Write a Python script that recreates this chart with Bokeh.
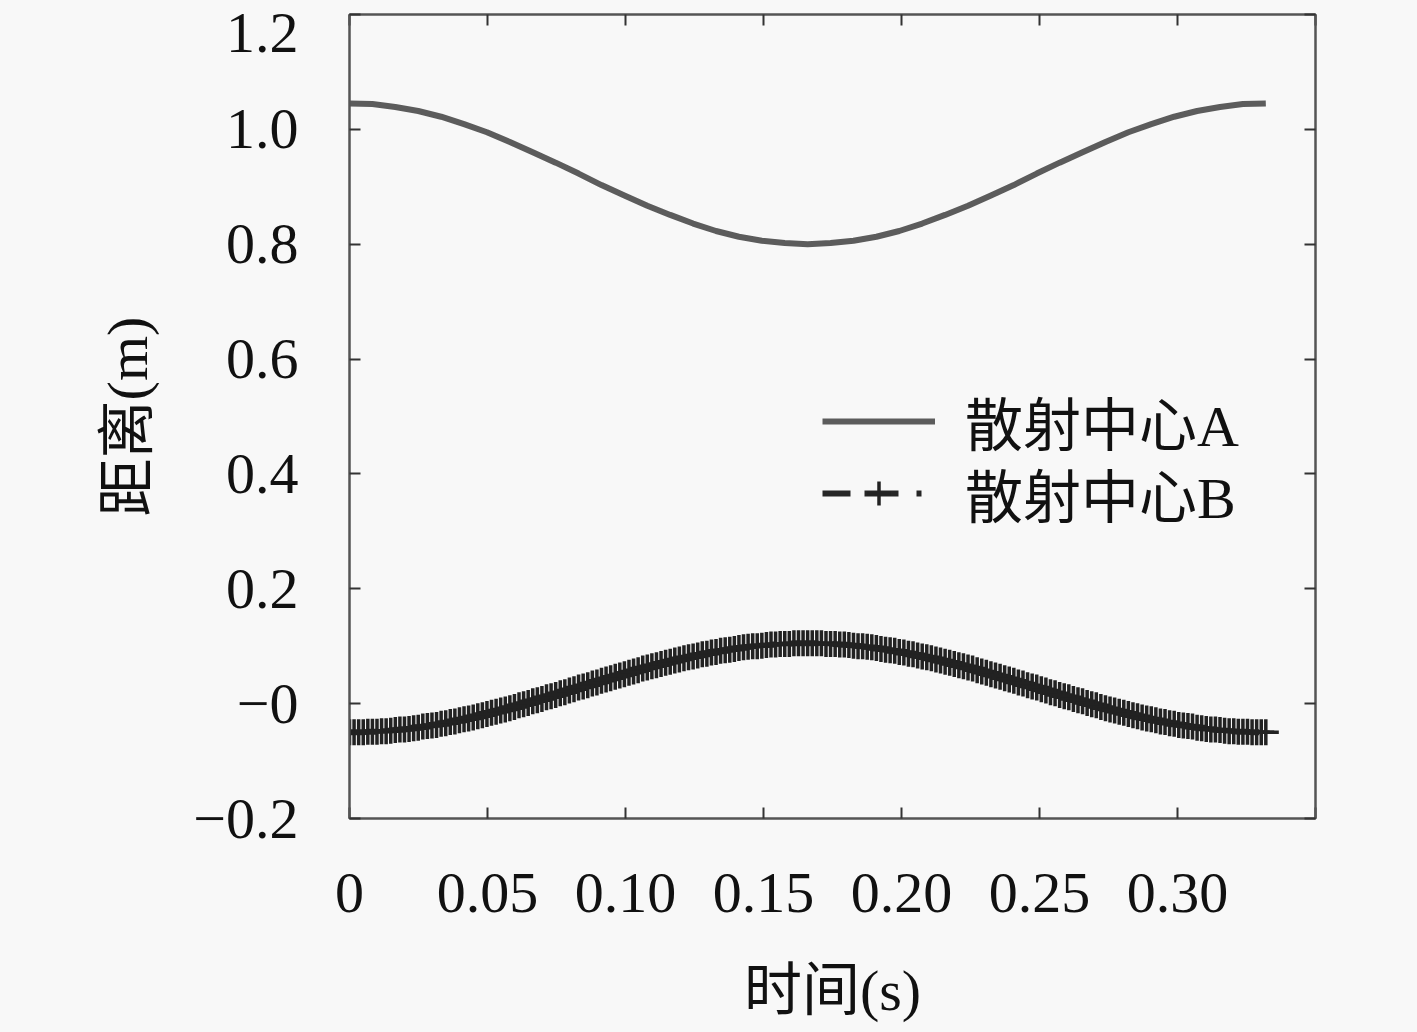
import numpy as np
from bokeh.plotting import figure
from bokeh.models import LinearAxis, FixedTicker, Legend, LegendItem, Range1d
from bokeh.embed import file_html
from bokeh.resources import INLINE

# ---------------- data ----------------
t_end = 0.332  # s, last sample time

# scattering centre A distance (m), 41 samples over 0..t_end
dist_A = [1.045, 1.044, 1.039, 1.032, 1.022, 1.009, 0.995, 0.978, 0.960, 0.942,
          0.923, 0.903, 0.885, 0.867, 0.851, 0.836, 0.823, 0.813, 0.806, 0.802,
          0.800,
          0.802, 0.806, 0.813, 0.823, 0.836, 0.851, 0.867, 0.885, 0.903, 0.923,
          0.942, 0.960, 0.978, 0.995, 1.009, 1.022, 1.032, 1.039, 1.044, 1.045]

# scattering centre B distance (m), 201 samples over 0..t_end
dist_B = [-0.050, -0.050, -0.050, -0.050, -0.049, -0.049, -0.049, -0.048, -0.048, -0.047,
          -0.046, -0.045, -0.045, -0.044, -0.043, -0.042, -0.040, -0.039, -0.038, -0.037,
          -0.035, -0.034, -0.032, -0.031, -0.029, -0.027, -0.026, -0.024, -0.022, -0.020,
          -0.018, -0.016, -0.014, -0.012, -0.010, -0.008, -0.006, -0.003, -0.001, 0.001,
          0.004, 0.006, 0.008, 0.011, 0.013, 0.015, 0.018, 0.020, 0.023, 0.025,
          0.028,
          0.030, 0.032, 0.035, 0.037, 0.040, 0.042, 0.044, 0.047, 0.049, 0.051,
          0.054, 0.056, 0.058, 0.061, 0.063, 0.065, 0.067, 0.069, 0.071, 0.073,
          0.075, 0.077, 0.079, 0.081, 0.082, 0.084, 0.086, 0.087, 0.089, 0.090,
          0.092, 0.093, 0.094, 0.095, 0.097, 0.098, 0.099, 0.100, 0.100, 0.101,
          0.102, 0.103, 0.103, 0.104, 0.104, 0.104, 0.105, 0.105, 0.105, 0.105,
          0.105, 0.105, 0.105, 0.104, 0.104, 0.104, 0.103, 0.103, 0.102, 0.101,
          0.100, 0.100, 0.099, 0.098, 0.097, 0.095, 0.094, 0.093, 0.092, 0.090,
          0.089, 0.087, 0.086, 0.084, 0.082, 0.081, 0.079, 0.077, 0.075, 0.073,
          0.071, 0.069, 0.067, 0.065, 0.063, 0.061, 0.058, 0.056, 0.054, 0.051,
          0.049, 0.047, 0.044, 0.042, 0.040, 0.037, 0.035, 0.032, 0.030, 0.028,
          0.025, 0.023, 0.020, 0.018, 0.015, 0.013, 0.011, 0.008, 0.006, 0.004,
          0.001, -0.001, -0.003, -0.006, -0.008, -0.010, -0.012, -0.014, -0.016, -0.018,
          -0.020, -0.022, -0.024, -0.026, -0.027, -0.029, -0.031, -0.032, -0.034, -0.035,
          -0.037, -0.038, -0.039, -0.040, -0.042, -0.043, -0.044, -0.045, -0.045, -0.046,
          -0.047, -0.048, -0.048, -0.049, -0.049, -0.049, -0.050, -0.050, -0.050, -0.050]

time_A = np.linspace(0, t_end, len(dist_A))
time_B = np.linspace(0, t_end, len(dist_B))

series_labels = ["散射中心A", "散射中心B"]

x_ticks = [0.0, 0.05, 0.10, 0.15, 0.20, 0.25, 0.30, 0.35]
x_tick_labels = ["0", "0.05", "0.10", "0.15", "0.20", "0.25", "0.30", ""]
y_ticks = [-0.2, 0.0, 0.2, 0.4, 0.6, 0.8, 1.0, 1.2]
y_tick_labels = ["\u22120.2", "\u22120", "0.2", "0.4", "0.6", "0.8", "1.0", "1.2"]

x_title = "时间(s)"
y_title = "距离(m)"

# ---------------- styles ----------------
BG = "#f8f8f8"
FRAME = "#555555"
SERIF = "Liberation Serif"
MIXED = "Liberation Serif, Noto Sans CJK SC"

W, H = 1400, 1030
FL, FR, FT, FB = 349, 1315, 14, 818   # frame edges in canvas pixels
Y0, Y1 = -0.2, 1.2
TOP_LABEL_DROP_PX = 18                # keep the top tick label inside the canvas

p = figure(width=W, height=H, output_backend="svg", toolbar_location=None,
           x_range=Range1d(0, 0.35), y_range=Range1d(Y0, Y1),
           min_border_left=FL, min_border_right=W - FR, min_border_top=FT,
           min_border_bottom=H - FB, background_fill_color=BG, border_fill_color=BG)
p.grid.visible = False
p.outline_line_color = FRAME
p.outline_line_width = 2

def style_axis(ax, ticks, labels, show_labels=True, show_ticks=True):
    ax.ticker = FixedTicker(ticks=ticks)
    ax.major_label_overrides = {t: l for t, l in zip(ticks, labels)}
    ax.major_tick_in = 11 if show_ticks else 0
    ax.major_tick_out = 0
    ax.major_tick_line_color = "#333333" if show_ticks else None
    ax.major_tick_line_width = 2
    ax.minor_tick_line_color = None
    ax.axis_line_color = FRAME if show_ticks else None
    ax.axis_line_width = 2
    ax.major_label_text_font = SERIF
    ax.major_label_text_color = "#111111"
    if show_labels:
        ax.major_label_text_font_size = "58px"
    else:
        ax.major_label_text_font_size = "0px"
        ax.major_label_standoff = 0

xa = p.xaxis[0]
style_axis(xa, x_ticks, x_tick_labels)
xa.major_label_standoff = 55
xa.axis_label = x_title
xa.axis_label_text_font = MIXED
xa.axis_label_text_font_style = "normal"
xa.axis_label_text_font_size = "58px"
xa.axis_label_text_color = "#111111"
xa.axis_label_standoff = 43

# inner left axis: only the inward ticks
ya = p.yaxis[0]
style_axis(ya, y_ticks, ["" for _ in y_ticks], show_labels=False)

# outer left axis: tick labels + title (top label nudged down to stay on the canvas)
drop = TOP_LABEL_DROP_PX * (Y1 - Y0) / (FB - FT)
y_label_pos = [v if v < Y1 else v - drop for v in y_ticks]
yl = LinearAxis()
style_axis(yl, y_label_pos, y_tick_labels, show_ticks=False)
yl.major_label_standoff = 51
yl.axis_label = y_title
yl.axis_label_text_font = MIXED
yl.axis_label_text_font_style = "normal"
yl.axis_label_text_font_size = "58px"
yl.axis_label_text_color = "#111111"
yl.axis_label_standoff = 30
p.add_layout(yl, "left")

top_ax = LinearAxis()
style_axis(top_ax, x_ticks, ["" for _ in x_ticks], show_labels=False)
p.add_layout(top_ax, "above")
right_ax = LinearAxis()
style_axis(right_ax, y_ticks, ["" for _ in y_ticks], show_labels=False)
p.add_layout(right_ax, "right")

# ---------------- series ----------------
rA = p.line(time_A, dist_A, line_color="#5c5c5c", line_width=6)
rB_line = p.line(time_B, dist_B, line_color="#262626", line_width=6, line_dash="28 14 34 18 5 14")
rB_pts = p.scatter(time_B, dist_B, marker="cross", size=26, line_color="#222222", line_width=3.5)

legend_style = dict(background_fill_alpha=0, border_line_color=None, padding=0, margin=0,
                    spacing=0, glyph_width=113, glyph_height=60, label_standoff=30,
                    label_text_font=MIXED, label_text_font_size="58px",
                    label_text_color="#111111")
legA = Legend(items=[LegendItem(label=series_labels[0], renderers=[rA])],
              location=(473, 355), **legend_style)
legB = Legend(items=[LegendItem(label=series_labels[1], renderers=[rB_line, rB_pts])],
              location=(473, 283), **legend_style)
p.add_layout(legA)
p.add_layout(legB)

html = file_html(p, INLINE)
html = html.replace("<head>", "<head><style>body{background:#f8f8f8;}</style>", 1)
open("out.html", "w").write(html)
